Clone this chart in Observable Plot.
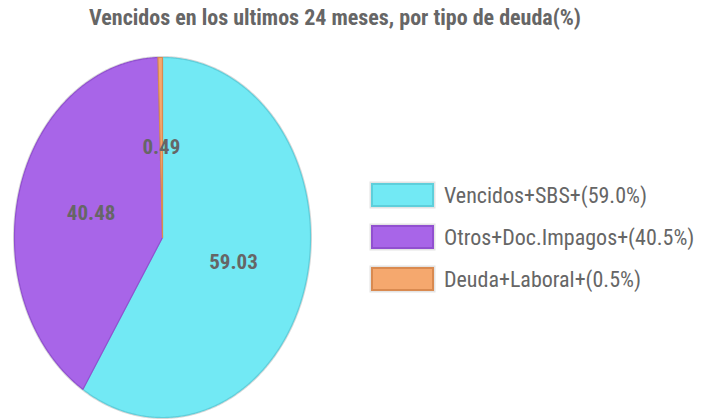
<!DOCTYPE html>
<html><head><meta charset="utf-8">
<script src="https://cdn.jsdelivr.net/npm/d3@7"></script>
<script src="https://cdn.jsdelivr.net/npm/@observablehq/plot@0.6"></script>
<style>
body{margin:0;background:#fff;}
#wrap{position:relative;width:706px;height:420px;overflow:hidden;font-family:"Liberation Sans Narrow","Roboto Condensed","DejaVu Sans Condensed",sans-serif;}
#title{position:absolute;left:0;top:5px;width:670px;text-align:center;font-size:22px;font-weight:bold;color:#666;}
#chart{position:absolute;left:0;top:45px;}
#legend{position:absolute;left:371px;top:174px;}
.row{display:flex;align-items:center;height:42px;}
.sw{width:59px;height:20px;border:2px solid;box-shadow:0 0 0 1.5px #e4e4e4;margin-right:10px;}
.lab{font-size:22px;color:#666;}
</style></head>
<body><div id="wrap"><div id="title"></div><div id="chart"></div><div id="legend"></div></div>
<script>
const titleText = "Vencidos en los ultimos 24 meses, por tipo de deuda(%)";
const categories = ["Vencidos+SBS+", "Otros+Doc.Impagos+", "Deuda+Laboral+"];
const values = [59.03, 40.48, 0.49];
const colors = ["#72e9f4", "#a865e8", "#f5a86e"];
const strokes = ["#5ecfdb", "#9150d0", "#d98a50"];

document.getElementById("title").textContent = titleText;

const total = d3.sum(values);
const pie = d3.pie().sort(null).value(d => d.value)(categories.map((c, i) => ({cat: c, value: values[i]})));
const poly = [];
pie.forEach(p => {
  const a0 = p.startAngle, a1 = p.endAngle;
  poly.push({cat: p.data.cat, x: 0, y: 0});
  const n = Math.max(2, Math.ceil((a1 - a0) / (Math.PI / 360)));
  for (let k = 0; k <= n; k++) {
    const a = a0 + (a1 - a0) * k / n;
    poly.push({cat: p.data.cat, x: Math.sin(a), y: Math.cos(a)});
  }
  poly.push({cat: p.data.cat, x: 0, y: 0});
});
const outline = d3.range(0, 721).map(k => ({x: Math.sin(k * Math.PI / 360), y: Math.cos(k * Math.PI / 360)}));
const labels = pie.map(p => {
  const a = (p.startAngle + p.endAngle) / 2;
  return {x: 0.5 * Math.sin(a), y: 0.5 * Math.cos(a), t: p.data.value.toFixed(2)};
});

const plot = Plot.plot({
  width: 706, height: 375,
  marginLeft: 14, marginRight: 396, marginTop: 12, marginBottom: 3,
  x: {domain: [-1, 1], axis: null},
  y: {domain: [-1, 1], axis: null},
  color: {domain: categories, range: colors},
  style: {background: "transparent"},
  marks: [
    Plot.line(outline, {x: "x", y: "y", stroke: "#d8d8d8", strokeWidth: 3, fill: "none"}),
    Plot.line(poly, {x: "x", y: "y", z: "cat", fill: "cat", stroke: d => strokes[categories.indexOf(d.cat)], strokeWidth: 1.2, curve: "linear"}),
    Plot.text(labels, {x: "x", y: "y", text: "t", fontSize: 21, fontWeight: "bold", fill: "#666",
      fontFamily: "Liberation Sans Narrow, Roboto Condensed, DejaVu Sans Condensed, sans-serif"})
  ]
});
document.getElementById("chart").appendChild(plot);

const cs = plot.scale("color");
const leg = document.getElementById("legend");
categories.forEach((c, i) => {
  const row = document.createElement("div"); row.className = "row";
  const sw = document.createElement("div"); sw.className = "sw";
  sw.style.background = cs.apply(c); sw.style.borderColor = strokes[i];
  const lab = document.createElement("div"); lab.className = "lab";
  lab.textContent = c + "(" + (values[i] / total * 100).toFixed(1) + "%)";
  row.appendChild(sw); row.appendChild(lab); leg.appendChild(row);
});
</script></body></html>
